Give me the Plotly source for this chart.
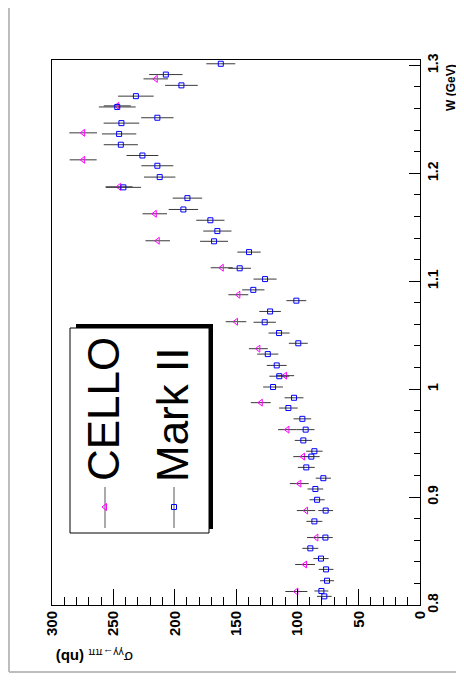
import plotly.graph_objects as go

# ---- data ----
markii_w = [0.808, 0.813, 0.8225, 0.833, 0.843, 0.8525, 0.8625, 0.8775, 0.8875, 0.8975,
            0.9075, 0.9175, 0.9275, 0.9375, 0.9425, 0.9525, 0.9625, 0.9725, 0.9825, 0.992,
            1.002, 1.012, 1.022, 1.0325, 1.0425, 1.052, 1.062, 1.072, 1.082, 1.092,
            1.102, 1.112, 1.127, 1.137, 1.1465, 1.1565, 1.1665, 1.177, 1.187, 1.1965,
            1.207, 1.2165, 1.2265, 1.2365, 1.2465, 1.2515, 1.2615, 1.2715, 1.2815, 1.2915,
            1.3015]
markii_sigma = [78.0, 80.4, 75.8, 76.6, 80.7, 89.4, 77.1, 86.1, 76.9, 83.9,
                85.3, 78.8, 92.7, 88.6, 86.1, 95.1, 93.2, 95.9, 107.3, 102.7,
                119.8, 114.7, 116.8, 124.1, 99.2, 114.9, 126.6, 122.2, 100.8, 135.9,
                126.3, 147.0, 139.4, 167.9, 165.2, 170.9, 192.9, 189.6, 241.8, 212.2,
                214.1, 226.3, 243.9, 245.3, 243.4, 214.1, 246.8, 231.6, 194.5, 207.2,
                162.4]
markii_err = [6.0, 5.7, 5.7, 6.0, 6.2, 6.5, 6.0, 6.5, 6.0, 6.2,
              6.4, 6.2, 6.9, 6.8, 6.7, 7.0, 7.2, 7.2, 7.6, 7.7,
              8.1, 8.1, 8.1, 8.6, 7.7, 8.6, 9.1, 8.8, 8.1, 9.1,
              9.4, 9.2, 9.5, 11.4, 11.5, 11.5, 12.0, 12.0, 14.4, 12.8,
              13.0, 13.0, 13.9, 14.0, 14.5, 13.2, 15.0, 14.5, 13.3, 13.6,
              11.8]

cello_w = [0.8125, 0.8375, 0.8625, 0.8875, 0.9125, 0.9375, 0.9625, 0.9875, 1.0125, 1.0375,
           1.0625, 1.0875, 1.1125, 1.1375, 1.1625, 1.1875, 1.2125, 1.2375, 1.2625, 1.2875]
cello_sigma = [100.8, 93.7, 84.5, 92.9, 98.4, 95.4, 108.1, 129.8, 110.0, 131.8,
               150.0, 148.1, 161.6, 213.8, 216.2, 245.3, 274.6, 274.6, 246.8, 215.4]
cello_err = [9.0, 8.1, 7.6, 7.5, 7.7, 7.9, 7.6, 8.1, 7.4, 7.7,
             8.4, 8.1, 9.0, 10.0, 10.0, 11.0, 11.0, 11.3, 11.0, 10.0]

legend_labels = ["CELLO", "Mark II"]

# ---- layout geometry (page pixels; the page body adds an 8px offset) ----
OFF = 8
PAGE_W, PAGE_H = 464, 688
W, H = PAGE_W - OFF, PAGE_H - OFF
L, R, T, B = 52, 420, 60, 605          # plot frame in page pixels


def xp(px):
    return (px - L) / (R - L)


def yp(py):
    return (B - py) / (B - T)


FONT = "Liberation Sans, Arial, Helvetica, sans-serif"
ERRC = "#3a3a3a"
MSIZE = 5
MLW = 1.0

fig = go.Figure()
fig.add_trace(go.Scatter(
    x=cello_sigma, y=cello_w, mode="markers",
    error_x=dict(type="data", array=cello_err, color=ERRC, thickness=1, width=0),
    marker=dict(symbol="triangle-left-open", size=MSIZE + 1, color="#ff00ff",
                line=dict(width=MLW, color="#ff00ff")),
    hoverinfo="skip"))
fig.add_trace(go.Scatter(
    x=markii_sigma, y=markii_w, mode="markers",
    error_x=dict(type="data", array=markii_err, color=ERRC, thickness=1, width=0),
    marker=dict(symbol="square-open", size=MSIZE, color="#0000ff",
                line=dict(width=MLW, color="#0000ff")),
    hoverinfo="skip"))

# legend markers on a pixel-space overlay axis
fig.add_trace(go.Scatter(
    x=[105], y=[507], xaxis="x2", yaxis="y2", mode="markers",
    marker=dict(symbol="triangle-left-open", size=MSIZE + 1, color="#ff00ff",
                line=dict(width=MLW, color="#ff00ff")), hoverinfo="skip"))
fig.add_trace(go.Scatter(
    x=[174], y=[507], xaxis="x2", yaxis="y2", mode="markers",
    marker=dict(symbol="square-open", size=MSIZE, color="#0000ff",
                line=dict(width=MLW, color="#0000ff")), hoverinfo="skip"))

shapes = []
# outer canvas border (left and bottom)
shapes.append(dict(type="line", xref="paper", yref="paper",
                   x0=xp(9), x1=xp(9), y0=yp(8), y1=yp(672),
                   line=dict(color="#bdbdbd", width=2)))
shapes.append(dict(type="line", xref="paper", yref="paper",
                   x0=xp(9), x1=xp(464), y0=yp(672), y1=yp(672),
                   line=dict(color="#bdbdbd", width=2)))
# legend shadow + box
shapes.append(dict(type="rect", xref="paper", yref="paper", layer="below",
                   x0=xp(76), x1=xp(213), y0=yp(324), y1=yp(529),
                   fillcolor="black", line=dict(width=0)))
shapes.append(dict(type="rect", xref="paper", yref="paper", layer="below",
                   x0=xp(70), x1=xp(209), y0=yp(328), y1=yp(533),
                   fillcolor="white", line=dict(color="black", width=1)))
for lx in (105, 174):
    shapes.append(dict(type="line", xref="paper", yref="paper", layer="below",
                       x0=xp(lx), x1=xp(lx), y0=yp(487), y1=yp(528),
                       line=dict(color="#555555", width=1)))

annotations = [
    dict(text=legend_labels[0], xref="paper", yref="paper", x=xp(103), y=yp(409),
         showarrow=False, textangle=-90, xanchor="center", yanchor="middle",
         font=dict(family=FONT, size=44, color="black")),
    dict(text=legend_labels[1], xref="paper", yref="paper", x=xp(172), y=yp(415),
         showarrow=False, textangle=-90, xanchor="center", yanchor="middle",
         font=dict(family=FONT, size=44, color="black")),
    dict(text="<b>W (GeV)</b>", xref="paper", yref="paper", x=xp(451), y=yp(88),
         showarrow=False, textangle=-90, xanchor="center", yanchor="middle",
         font=dict(family=FONT, size=12, color="black")),
    dict(text="σ<sub>γγ→ππ</sub> <b>(nb)</b>", xref="paper", yref="paper",
         x=xp(95), y=yp(657), showarrow=False, textangle=180,
         xanchor="center", yanchor="middle",
         font=dict(family=FONT, size=15, color="black")),
]

fig.update_layout(
    template="none",
    width=W, height=H, autosize=False,
    margin=dict(l=L - OFF, r=PAGE_W - R, t=T - OFF, b=PAGE_H - B, pad=0),
    plot_bgcolor="white", paper_bgcolor="white", showlegend=False,
    xaxis=dict(range=[300, 0], tick0=0, dtick=50, ticks="inside", ticklen=16,
               tickwidth=1, tickcolor="black", automargin=False,
               minor=dict(tick0=0, dtick=10, ticks="inside", ticklen=8,
                          tickcolor="black", tickwidth=1),
               showline=True, linecolor="black", linewidth=1, mirror=True,
               showgrid=False, zeroline=False, tickangle=-90,
               ticklabelstandoff=-1,
               tickfont=dict(family=FONT, size=15, weight="bold", color="black")),
    yaxis=dict(range=[0.8, 1.305], side="right", tick0=0.8, dtick=0.1,
               ticks="inside", ticklen=11, tickwidth=1, tickcolor="black",
               automargin=False,
               minor=dict(tick0=0.8, dtick=0.02, ticks="inside", ticklen=6,
                          tickcolor="black", tickwidth=1),
               showline=True, linecolor="black", linewidth=1, mirror=True,
               showgrid=False, zeroline=False, tickangle=-90,
               tickfont=dict(family=FONT, size=14, weight="bold", color="black")),
    xaxis2=dict(range=[L, R], overlaying="x", anchor="y2", visible=False,
                automargin=False),
    yaxis2=dict(range=[B, T], overlaying="y", anchor="x2", visible=False,
                automargin=False),
    shapes=shapes, annotations=annotations,
)

fig.write_html("out.html")
